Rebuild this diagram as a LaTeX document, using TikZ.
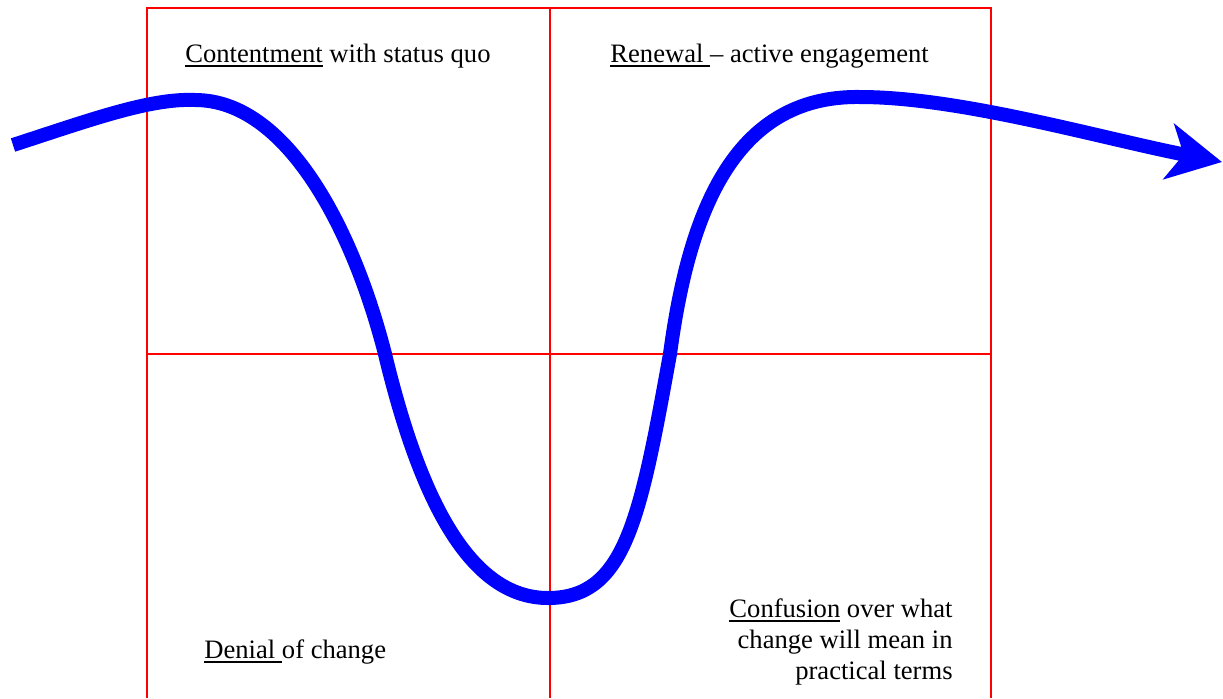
\documentclass[tikz,border=0pt]{standalone}
\usepackage{fontspec}
\setmainfont{Liberation Serif}
\usetikzlibrary{arrows.meta}
\newcommand\myuline[1]{\setbox0\hbox{#1}\rlap{\raisebox{-2.3pt}{\rule{\wd0}{0.9pt}}}\box0\relax}
\begin{document}
\begin{tikzpicture}[x=0.5pt,y=-0.5pt,
  gridline/.style={draw=red,line width=1pt},
  lbl/.style={inner sep=0pt,font=\fontsize{13.3}{15.5}\selectfont},
  curve/.style={draw=blue,line width=7pt,
    -{Stealth[length=27pt,width=28pt,inset=7.5pt,fill=blue]}}]
\useasboundingbox (0,0) rectangle (1223,698);
% grid
\draw[gridline] (147,698) -- (147,8) -- (991,8) -- (991,698);
\draw[gridline] (550,8) -- (550,698);
\draw[gridline] (147,354) -- (991,354);
% labels
\node[lbl,anchor=base west] (cont) at (185,62) {\myuline{Contentment} with status quo};
\node[lbl,anchor=base west] (ren) at (610,62) {\myuline{Renewal\ }– active engagement};
\node[lbl,anchor=base west] (den) at (204,658) {\myuline{Denial\ }of change};
\node[lbl,anchor=north east,align=right] (conf) at (953,598)
  {\myuline{Confusion} over what\\change will mean in\\practical terms};
% curve
\coordinate (s) at (13,145);
\coordinate (t1) at (195,100);
\coordinate (c1) at (385,354);
\coordinate (b) at (548,598);
\coordinate (c2) at (670,354);
\coordinate (t2) at (860,97);
\coordinate (e) at (1222,162);
\draw[curve] (s) .. controls (90,120) and (150,98) .. (t1)
  .. controls (285,100) and (352,225) .. (c1)
  .. controls (420,500) and (470,598) .. (b)
  .. controls (625,598) and (640,520) .. (c2)
  .. controls (688,220) and (730,95) .. (t2)
  .. controls (960,97) and (1100,138) .. (e);
\end{tikzpicture}
\end{document}
